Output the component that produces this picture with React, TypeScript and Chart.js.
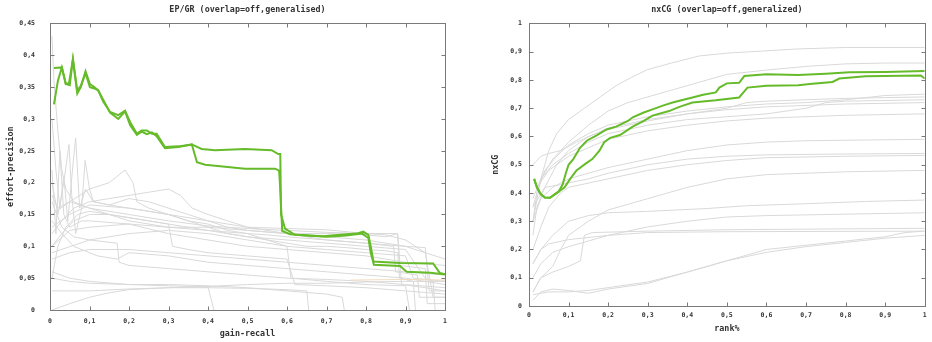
import React, { useEffect, useRef } from 'react';
import { Chart, registerables } from 'chart.js';
Chart.register(...registerables);

type Pt = [number, number];

// ---------- Left chart: EP/GR ----------
const epTitle = 'EP/GR (overlap=off,generalised)';
const epXTitle = 'gain-recall';
const epYTitle = 'effort-precision';
const epXTicks = [0, 0.1, 0.2, 0.3, 0.4, 0.5, 0.6, 0.7, 0.8, 0.9, 1];
const epXLabels = ['0', '0,1', '0,2', '0,3', '0,4', '0,5', '0,6', '0,7', '0,8', '0,9', '1'];
const epYTicks = [0, 0.05, 0.1, 0.15, 0.2, 0.25, 0.3, 0.35, 0.4, 0.45];
const epYLabels = ['0', '0,05', '0,1', '0,15', '0,2', '0,25', '0,3', '0,35', '0,4', '0,45'];

const epGreenA: Pt[] = [[0.01,0.38],[0.03,0.381],[0.04,0.355],[0.048,0.356],[0.058,0.394],[0.069,0.34],[0.078,0.35],[0.09,0.375],[0.101,0.355],[0.112,0.35],[0.122,0.345],[0.135,0.327],[0.152,0.311],[0.173,0.306],[0.19,0.313],[0.203,0.295],[0.22,0.277],[0.232,0.282],[0.245,0.282],[0.258,0.277],[0.27,0.277],[0.291,0.256],[0.325,0.257],[0.359,0.26],[0.384,0.253],[0.418,0.251],[0.494,0.253],[0.561,0.251],[0.578,0.245],[0.583,0.245],[0.585,0.15],[0.595,0.128],[0.62,0.118],[0.692,0.116],[0.734,0.118],[0.776,0.12],[0.793,0.123],[0.806,0.118],[0.812,0.1],[0.819,0.076],[0.886,0.074],[0.97,0.073],[0.987,0.058],[1,0.056]];
const epGreenB: Pt[] = [[0.01,0.323],[0.02,0.36],[0.03,0.381],[0.04,0.355],[0.05,0.353],[0.058,0.394],[0.069,0.345],[0.078,0.352],[0.09,0.372],[0.101,0.35],[0.112,0.348],[0.122,0.345],[0.135,0.33],[0.152,0.31],[0.173,0.3],[0.19,0.312],[0.203,0.29],[0.22,0.275],[0.232,0.28],[0.245,0.276],[0.258,0.279],[0.27,0.273],[0.291,0.254],[0.325,0.256],[0.359,0.26],[0.367,0.243],[0.372,0.232],[0.393,0.228],[0.494,0.222],[0.57,0.222],[0.58,0.219],[0.582,0.2],[0.588,0.124],[0.608,0.119],[0.65,0.117],[0.7,0.115],[0.75,0.117],[0.79,0.12],[0.806,0.113],[0.812,0.09],[0.82,0.071],[0.886,0.069],[0.903,0.06],[0.962,0.0585],[0.996,0.056],[1,0.056]];

const epGray1: Pt[] = [[0.005,0.43],[0.01,0.36],[0.02,0.28],[0.03,0.22],[0.04,0.19],[0.06,0.17],[0.1,0.16],[0.15,0.15],[0.2,0.145],[0.25,0.14],[0.3,0.135],[0.35,0.13],[0.4,0.125],[0.45,0.12],[0.5,0.115],[0.55,0.11],[0.6,0.105],[0.65,0.1],[0.7,0.1],[0.75,0.098],[0.8,0.095],[0.85,0.093],[0.88,0.09],[0.885,0.05],[0.92,0.045],[0.925,0]];
const epGray2: Pt[] = [[0.005,0.3],[0.015,0.22],[0.025,0.16],[0.035,0.21],[0.045,0.14],[0.06,0.24],[0.065,0.27],[0.075,0.16],[0.09,0.19],[0.11,0.17],[0.15,0.165],[0.2,0.16],[0.25,0.155],[0.3,0.15],[0.35,0.14],[0.4,0.135],[0.45,0.125],[0.5,0.12],[0.55,0.118],[0.6,0.115],[0.7,0.11],[0.8,0.105],[0.87,0.1],[0.875,0.06],[0.93,0.055],[0.935,0.02],[1,0.02]];
const epGray3: Pt[] = [[0.005,0.2],[0.02,0.15],[0.035,0.2],[0.048,0.26],[0.055,0.18],[0.065,0.12],[0.08,0.16],[0.089,0.235],[0.1,0.19],[0.11,0.17],[0.15,0.165],[0.2,0.175],[0.25,0.17],[0.3,0.16],[0.35,0.15],[0.4,0.14],[0.45,0.13],[0.5,0.125],[0.6,0.12],[0.7,0.12],[0.8,0.118],[0.85,0.115],[0.88,0.12],[0.885,0.07],[0.95,0.065],[0.955,0.01],[1,0.01]];
const epGray4: Pt[] = [[0.005,0.12],[0.03,0.14],[0.06,0.16],[0.1,0.17],[0.15,0.175],[0.2,0.18],[0.25,0.185],[0.3,0.19],[0.33,0.18],[0.36,0.16],[0.4,0.15],[0.45,0.14],[0.5,0.13],[0.55,0.125],[0.6,0.12],[0.7,0.115],[0.8,0.11],[0.9,0.1],[0.95,0.09],[1,0.08]];
const epGray5: Pt[] = [[0.005,0.15],[0.05,0.17],[0.1,0.19],[0.15,0.2],[0.19,0.22],[0.21,0.2],[0.22,0.17],[0.25,0.16],[0.3,0.15],[0.35,0.14],[0.4,0.13],[0.5,0.125],[0.6,0.12],[0.65,0.115],[0.7,0.11],[0.8,0.105],[0.9,0.1],[0.95,0.098],[0.96,0.03],[1,0.03]];
const epGray6: Pt[] = [[0.005,0.1],[0.03,0.12],[0.06,0.14],[0.1,0.15],[0.15,0.15],[0.2,0.145],[0.25,0.14],[0.3,0.135],[0.31,0.1],[0.35,0.095],[0.4,0.09],[0.5,0.085],[0.6,0.08],[0.62,0.04],[0.7,0.038],[0.8,0.035],[0.9,0.03],[1,0.025]];
const epGray7: Pt[] = [[0.005,0.05],[0.02,0.1],[0.04,0.13],[0.07,0.15],[0.1,0.155],[0.15,0.15],[0.2,0.14],[0.3,0.13],[0.4,0.125],[0.5,0.12],[0.55,0.11],[0.6,0.1],[0.7,0.095],[0.8,0.09],[0.9,0.085],[0.92,0.05],[1,0.045]];
const epGray8: Pt[] = [[0.005,0.17],[0.03,0.13],[0.06,0.115],[0.1,0.11],[0.17,0.105],[0.175,0.075],[0.2,0.07],[0.3,0.065],[0.4,0.06],[0.5,0.055],[0.6,0.05],[0.7,0.048],[0.8,0.045],[0.9,0.04],[1,0.035]];
const epGray9: Pt[] = [[0.005,0.08],[0.05,0.09],[0.1,0.095],[0.2,0.095],[0.3,0.09],[0.4,0.085],[0.5,0.08],[0.6,0.075],[0.7,0.07],[0.8,0.065],[0.9,0.06],[1,0.055]];
const epGray10: Pt[] = [[0.005,0.05],[0.05,0.045],[0.1,0.042],[0.2,0.04],[0.3,0.038],[0.4,0.036],[0.415,0]];
const epGray11: Pt[] = [[0.005,0],[0.05,0.01],[0.1,0.02],[0.15,0.027],[0.2,0.032],[0.3,0.035],[0.4,0.037],[0.5,0.04],[0.6,0.042],[0.7,0.042],[0.8,0.044],[0.9,0.045],[1,0.045]];
const epGray12: Pt[] = [[0.005,0.03],[0.05,0.03],[0.1,0.03],[0.2,0.033],[0.3,0.035],[0.4,0.035],[0.5,0.034],[0.6,0.032],[0.65,0.03],[0.655,0]];
const epGray13: Pt[] = [[0.005,0.06],[0.05,0.05],[0.1,0.045],[0.2,0.04],[0.3,0.04],[0.4,0.038],[0.5,0.035],[0.6,0.03],[0.7,0.025],[0.74,0.02],[0.745,0]];
const epGray14: Pt[] = [[0.005,0.14],[0.03,0.12],[0.06,0.1],[0.1,0.09],[0.12,0.085],[0.17,0.08],[0.2,0.09],[0.3,0.085],[0.4,0.075],[0.5,0.07],[0.6,0.065],[0.7,0.06],[0.8,0.055],[0.9,0.05],[1,0.04]];
const epGray15: Pt[] = [[0.005,0.18],[0.02,0.16],[0.05,0.17],[0.1,0.16],[0.2,0.15],[0.3,0.14],[0.4,0.132],[0.5,0.128],[0.6,0.125],[0.7,0.122],[0.8,0.12],[0.88,0.12],[0.89,0.04],[0.95,0.035],[1,0.03]];
const epGray16: Pt[] = [[0.005,0.13],[0.05,0.15],[0.1,0.165],[0.2,0.16],[0.3,0.15],[0.4,0.14],[0.5,0.13],[0.6,0.128],[0.7,0.126],[0.8,0.12],[0.85,0.118],[0.9,0.11],[0.95,0.09],[0.97,0.02],[1,0.02]];
const epGray17: Pt[] = [[0.005,0.09],[0.1,0.11],[0.2,0.12],[0.3,0.125],[0.4,0.12],[0.5,0.11],[0.6,0.1],[0.61,0.05],[0.7,0.045],[0.8,0.04],[0.9,0.038],[0.91,0]];
const epGray18: Pt[] = [[0.005,0.1],[0.05,0.125],[0.1,0.13],[0.2,0.135],[0.3,0.13],[0.4,0.13],[0.45,0.12],[0.5,0.115],[0.6,0.11],[0.7,0.105],[0.8,0.1],[0.9,0.095],[0.95,0.05],[0.97,0.045],[0.975,0]];
const epGray19: Pt[] = [[0.005,0.22],[0.015,0.12],[0.025,0.25],[0.035,0.15],[0.05,0.13],[0.08,0.14],[0.1,0.14],[0.2,0.135],[0.3,0.12],[0.4,0.11],[0.5,0.1],[0.6,0.095],[0.7,0.09],[0.8,0.085],[0.9,0.075],[1,0.07]];
const epOrange: Pt[] = [[0.76,0.047],[0.9,0.048],[1,0.047]];

// ---------- Right chart: nxCG ----------
const ncTitle = 'nxCG (overlap=off,generalized)';
const ncXTitle = 'rank%';
const ncYTitle = 'nxCG';
const ncXTicks = [0, 0.1, 0.2, 0.3, 0.4, 0.5, 0.6, 0.7, 0.8, 0.9, 1];
const ncXLabels = ['0', '0,1', '0,2', '0,3', '0,4', '0,5', '0,6', '0,7', '0,8', '0,9', '1'];
const ncYTicks = [0, 0.1, 0.2, 0.3, 0.4, 0.5, 0.6, 0.7, 0.8, 0.9, 1];
const ncYLabels = ['0', '0,1', '0,2', '0,3', '0,4', '0,5', '0,6', '0,7', '0,8', '0,9', '1'];

const ncGreenA: Pt[] = [[0.013,0.45],[0.02,0.42],[0.03,0.395],[0.04,0.384],[0.053,0.383],[0.065,0.395],[0.075,0.405],[0.085,0.43],[0.093,0.47],[0.1,0.5],[0.112,0.52],[0.129,0.56],[0.146,0.585],[0.171,0.604],[0.196,0.625],[0.22,0.635],[0.25,0.655],[0.262,0.668],[0.29,0.685],[0.312,0.696],[0.34,0.71],[0.363,0.72],[0.39,0.73],[0.413,0.738],[0.44,0.748],[0.472,0.756],[0.481,0.773],[0.5,0.788],[0.531,0.79],[0.544,0.814],[0.6,0.82],[0.68,0.818],[0.75,0.822],[0.81,0.827],[0.9,0.828],[1,0.832]];
const ncGreenB: Pt[] = [[0.013,0.45],[0.02,0.42],[0.03,0.395],[0.04,0.384],[0.053,0.383],[0.065,0.395],[0.075,0.405],[0.09,0.42],[0.104,0.45],[0.12,0.48],[0.144,0.505],[0.16,0.52],[0.178,0.55],[0.19,0.58],[0.205,0.595],[0.23,0.605],[0.262,0.635],[0.29,0.655],[0.312,0.674],[0.354,0.69],[0.38,0.705],[0.413,0.72],[0.472,0.728],[0.531,0.738],[0.552,0.773],[0.6,0.78],[0.68,0.781],[0.716,0.787],[0.767,0.793],[0.784,0.805],[0.851,0.813],[0.99,0.816],[1,0.805]];

const ncGray1: Pt[] = [[0.01,0.3],[0.03,0.45],[0.05,0.55],[0.07,0.61],[0.1,0.66],[0.14,0.7],[0.18,0.74],[0.22,0.78],[0.26,0.81],[0.3,0.837],[0.36,0.86],[0.43,0.885],[0.5,0.895],[0.56,0.9],[0.68,0.91],[0.8,0.915],[1,0.915]];
const ncGray2: Pt[] = [[0.01,0.35],[0.03,0.45],[0.06,0.52],[0.1,0.58],[0.15,0.64],[0.2,0.69],[0.25,0.72],[0.3,0.74],[0.35,0.76],[0.4,0.78],[0.45,0.8],[0.5,0.82],[0.6,0.835],[0.7,0.848],[0.8,0.857],[0.9,0.86],[1,0.86]];
const ncGray3: Pt[] = [[0.01,0.3],[0.02,0.4],[0.04,0.48],[0.07,0.53],[0.1,0.57],[0.15,0.61],[0.2,0.64],[0.3,0.67],[0.4,0.69],[0.5,0.705],[0.6,0.715],[0.7,0.72],[0.8,0.73],[0.9,0.745],[1,0.75]];
const ncGray4: Pt[] = [[0.01,0.25],[0.02,0.35],[0.04,0.42],[0.07,0.5],[0.1,0.55],[0.15,0.6],[0.2,0.625],[0.3,0.655],[0.4,0.68],[0.5,0.7],[0.55,0.72],[0.6,0.725],[0.7,0.73],[0.8,0.735],[1,0.74]];
const ncGray5: Pt[] = [[0.01,0.38],[0.03,0.45],[0.06,0.5],[0.1,0.54],[0.15,0.58],[0.2,0.61],[0.3,0.64],[0.4,0.66],[0.5,0.67],[0.6,0.68],[0.7,0.7],[0.75,0.72],[0.8,0.725],[1,0.73]];
const ncGray6: Pt[] = [[0.01,0.5],[0.03,0.53],[0.05,0.54],[0.08,0.55],[0.12,0.58],[0.2,0.63],[0.3,0.66],[0.4,0.68],[0.5,0.695],[0.6,0.705],[0.7,0.71],[0.8,0.715],[1,0.72]];
const ncGray7: Pt[] = [[0.02,0.42],[0.05,0.48],[0.1,0.53],[0.2,0.59],[0.3,0.62],[0.4,0.64],[0.5,0.655],[0.6,0.665],[0.7,0.67],[0.8,0.675],[1,0.68]];
const ncGray8: Pt[] = [[0.01,0.3],[0.03,0.38],[0.06,0.42],[0.1,0.45],[0.2,0.49],[0.3,0.52],[0.4,0.55],[0.5,0.57],[0.6,0.58],[0.7,0.585],[1,0.59]];
const ncGray9: Pt[] = [[0.01,0.35],[0.04,0.42],[0.08,0.43],[0.15,0.45],[0.2,0.47],[0.3,0.5],[0.4,0.52],[0.5,0.53],[0.6,0.535],[0.8,0.538],[1,0.54]];
const ncGray10: Pt[] = [[0.01,0.2],[0.03,0.28],[0.05,0.35],[0.08,0.4],[0.1,0.42],[0.2,0.45],[0.3,0.48],[0.4,0.5],[0.5,0.515],[0.6,0.525],[0.8,0.53],[1,0.533]];
const ncGray11: Pt[] = [[0.01,0.05],[0.03,0.1],[0.06,0.14],[0.08,0.2],[0.1,0.25],[0.15,0.3],[0.2,0.34],[0.3,0.38],[0.4,0.42],[0.5,0.45],[0.6,0.465],[0.7,0.47],[0.8,0.475],[1,0.48]];
const ncGray12: Pt[] = [[0.01,0.15],[0.03,0.2],[0.06,0.25],[0.1,0.3],[0.15,0.32],[0.2,0.33],[0.3,0.335],[0.45,0.345],[0.55,0.355],[0.7,0.362],[0.85,0.37],[1,0.375]];
const ncGray13: Pt[] = [[0.01,0.1],[0.03,0.15],[0.06,0.19],[0.1,0.21],[0.15,0.23],[0.2,0.25],[0.3,0.28],[0.4,0.3],[0.5,0.315],[0.6,0.32],[0.8,0.325],[1,0.33]];
const ncGray14: Pt[] = [[0.01,0.05],[0.03,0.1],[0.06,0.12],[0.1,0.14],[0.13,0.16],[0.14,0.25],[0.16,0.26],[0.3,0.265],[0.5,0.27],[0.7,0.272],[1,0.275]];
const ncGray15: Pt[] = [[0.01,0.15],[0.03,0.2],[0.05,0.22],[0.1,0.235],[0.2,0.25],[0.3,0.26],[0.5,0.263],[1,0.265]];
const ncGray16: Pt[] = [[0.01,0.04],[0.05,0.05],[0.1,0.05],[0.15,0.055],[0.2,0.065],[0.3,0.085],[0.4,0.12],[0.5,0.16],[0.6,0.2],[0.7,0.215],[0.8,0.23],[0.9,0.245],[0.95,0.26],[1,0.265]];
const ncGray17: Pt[] = [[0.01,0.02],[0.03,0.05],[0.06,0.06],[0.1,0.055],[0.15,0.045],[0.2,0.06],[0.3,0.08],[0.4,0.12],[0.5,0.16],[0.6,0.19],[0.7,0.21],[0.8,0.225],[0.9,0.24],[1,0.25]];

const GREEN = '#66bb2a';
const GRAY = '#d9d9d9';
const ORANGE = '#f2dcbf';
const FRAME = '#7a7a7a';
const TEXT = '#333333';
const FONT = '"DejaVu Sans Mono", monospace';

const framePlugin = {
  id: 'frame',
  afterDatasetsDraw(chart: any) {
    const { ctx, chartArea: a, scales } = chart;
    const L = 4;
    ctx.save();
    ctx.strokeStyle = FRAME;
    ctx.lineWidth = 1;
    const l = Math.round(a.left) + 0.5, r = Math.round(a.right) + 0.5;
    const t = Math.round(a.top) + 0.5, b = Math.round(a.bottom) + 0.5;
    ctx.strokeRect(l, t, r - l, b - t);
    ctx.beginPath();
    for (const tk of scales.x.ticks) {
      const px = Math.round(scales.x.getPixelForValue(tk.value)) + 0.5;
      ctx.moveTo(px, b); ctx.lineTo(px, b - L);
      ctx.moveTo(px, t); ctx.lineTo(px, t + L);
    }
    for (const tk of scales.y.ticks) {
      const py = Math.round(scales.y.getPixelForValue(tk.value)) + 0.5;
      ctx.moveTo(l, py); ctx.lineTo(l + L, py);
      ctx.moveTo(r, py); ctx.lineTo(r - L, py);
    }
    ctx.stroke();
    ctx.restore();
  },
};

const toXY = (pts: Pt[]) => pts.map(([x, y]) => ({ x, y }));

interface PanelCfg {
  title: string; xTitle: string; yTitle: string;
  xTicks: number[]; xLabels: string[]; yTicks: number[]; yLabels: string[];
  yMax: number; green: Pt[][]; gray: Pt[][]; orange: Pt[][];
  yWidth: number; xHeight: number; padRight: number;
  yTickPad: number; xTickPad: number; yTitlePad: number; xTitlePad: number;
}

function Panel({ cfg, left }: { cfg: PanelCfg; left: number }) {
  const ref = useRef<HTMLCanvasElement>(null);
  useEffect(() => {
    if (!ref.current) return;
    const datasets: any[] = [];
    cfg.green.forEach((g) => datasets.push({ data: toXY(g), borderColor: GREEN, borderWidth: 2, pointRadius: 0, tension: 0 }));
    cfg.orange.forEach((g) => datasets.push({ data: toXY(g), borderColor: ORANGE, borderWidth: 1, pointRadius: 0, tension: 0 }));
    cfg.gray.forEach((g) => datasets.push({ data: toXY(g), borderColor: GRAY, borderWidth: 1, pointRadius: 0, tension: 0 }));
    const tickFont = { family: FONT, size: 6.5, weight: 'bold' as const };
    const titleFont = { family: FONT, size: 8.4, weight: 'bold' as const };
    const chart = new Chart(ref.current, {
      type: 'line',
      data: { datasets },
      plugins: [framePlugin],
      options: {
        responsive: false,
        animation: false,
        events: [],
        layout: { padding: { left: 0, right: cfg.padRight, top: 0, bottom: 0 } },
        plugins: {
          legend: { display: false },
          tooltip: { enabled: false },
          title: {
            display: true, text: cfg.title, color: TEXT, font: titleFont,
            fullSize: false, padding: { top: 4.5, bottom: 8.9 },
          },
        },
        scales: {
          x: {
            type: 'linear', min: 0, max: 1,
            afterBuildTicks: (s: any) => { s.ticks = cfg.xTicks.map((v) => ({ value: v })); },
            afterFit: (s: any) => { s.height = cfg.xHeight; },
            grid: { display: false, drawTicks: false }, border: { display: false },
            ticks: { callback: (_v: any, i: number) => cfg.xLabels[i], color: TEXT, font: tickFont, padding: cfg.xTickPad, maxRotation: 0, autoSkip: false },
            title: { display: true, text: cfg.xTitle, color: TEXT, font: titleFont, padding: { top: 0, bottom: cfg.xTitlePad } },
          },
          y: {
            type: 'linear', min: 0, max: cfg.yMax,
            afterBuildTicks: (s: any) => { s.ticks = cfg.yTicks.map((v) => ({ value: v })); },
            afterFit: (s: any) => { s.width = cfg.yWidth; },
            grid: { display: false, drawTicks: false }, border: { display: false },
            ticks: { callback: (_v: any, i: number) => cfg.yLabels[i], color: TEXT, font: tickFont, padding: cfg.yTickPad, autoSkip: false },
            title: { display: true, text: cfg.yTitle, color: TEXT, font: titleFont, padding: { top: cfg.yTitlePad, bottom: 0 } },
          },
        },
      } as any,
    });
    return () => chart.destroy();
  }, [cfg]);
  return (
    <canvas ref={ref} width={466} height={342}
      style={{ position: 'absolute', left, top: 0, width: 466, height: 342 }} />
  );
}

const epCfg: PanelCfg = {
  title: epTitle, xTitle: epXTitle, yTitle: epYTitle,
  xTicks: epXTicks, xLabels: epXLabels, yTicks: epYTicks, yLabels: epYLabels,
  yMax: 0.45, green: [epGreenA, epGreenB],
  gray: [epGray1, epGray2, epGray3, epGray4, epGray5, epGray6, epGray7, epGray8, epGray9, epGray10, epGray11, epGray12, epGray13, epGray14, epGray15, epGray16, epGray17, epGray18, epGray19],
  orange: [epOrange],
  yWidth: 50, xHeight: 32, padRight: 21, yTickPad: 15, xTickPad: 7, yTitlePad: 6, xTitlePad: 3,
};

const ncCfg: PanelCfg = {
  title: ncTitle, xTitle: ncXTitle, yTitle: ncYTitle,
  xTicks: ncXTicks, xLabels: ncXLabels, yTicks: ncYTicks, yLabels: ncYLabels,
  yMax: 1, green: [ncGreenA, ncGreenB],
  gray: [ncGray1, ncGray2, ncGray3, ncGray4, ncGray5, ncGray6, ncGray7, ncGray8, ncGray9, ncGray10, ncGray11, ncGray12, ncGray13, ncGray14, ncGray15, ncGray16, ncGray17],
  orange: [],
  yWidth: 63, xHeight: 36, padRight: 7, yTickPad: 7, xTickPad: 5.3, yTitlePad: 25, xTitlePad: 8,
};

export default function App() {
  return (
    <div style={{ position: 'fixed', left: 0, top: 0, width: 932, height: 342, background: '#ffffff', overflow: 'hidden' }}>
      <Panel cfg={epCfg} left={0} />
      <Panel cfg={ncCfg} left={466} />
    </div>
  );
}
